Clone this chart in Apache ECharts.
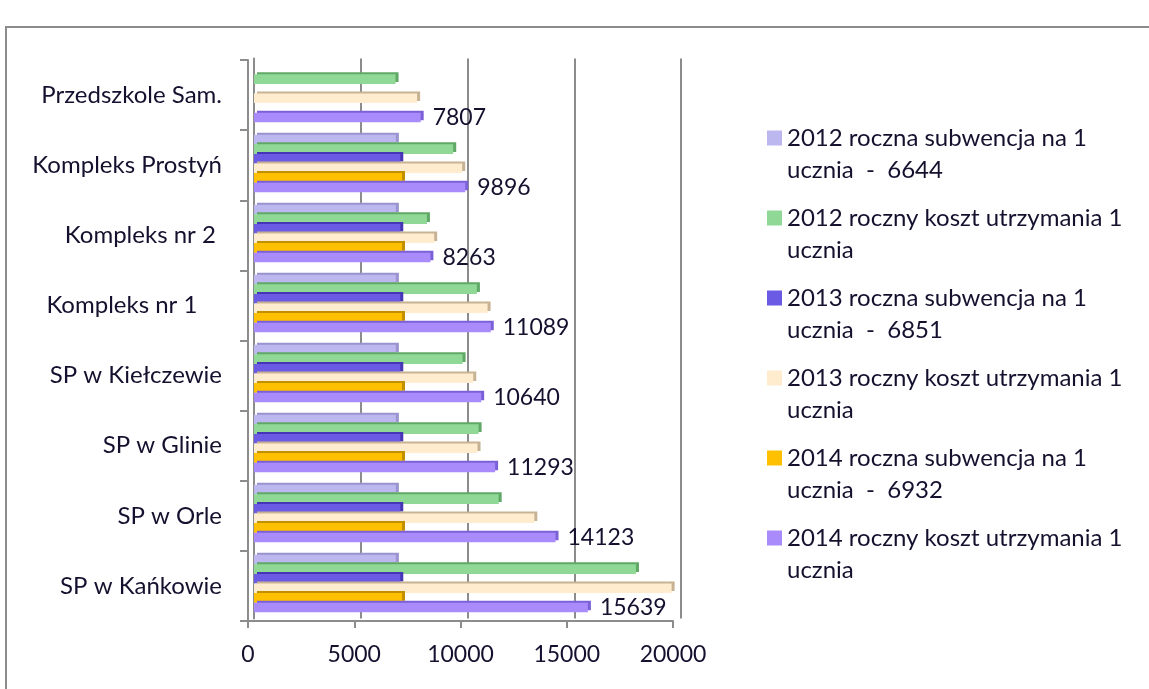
<!DOCTYPE html>
<html>
<head>
<meta charset="utf-8">
<script src="https://cdn.jsdelivr.net/npm/echarts@6/dist/echarts.min.js"></script>
<style>
  html, body { margin: 0; padding: 0; background: #fff; }
  #chart { width: 1149px; height: 689px; }
</style>
</head>
<body>
<div id="chart"></div>
<script>
// categories, top to bottom
var schools = ['Przedszkole Sam.', 'Kompleks Prostyń', 'Kompleks nr 2 ', 'Kompleks nr 1    ',
    'SP w Kiełczewie', 'SP w Glinie', 'SP w Orle', 'SP w Kańkowie'];

var subw2012 = [null, 6644, 6644, 6644, 6644, 6644, 6644, 6644];
var koszt2012 = [6630, 9330, 8100, 10440, 9770, 10520, 11460, 17890];
var subw2013 = [null, 6851, 6851, 6851, 6851, 6851, 6851, 6851];
var koszt2013 = [7640, 9750, 8440, 10940, 10270, 10470, 13130, 19560];
var subw2014 = [null, 6932, 6932, 6932, 6932, 6932, 6932, 6932];
var koszt2014 = [7807, 9896, 8263, 11089, 10640, 11293, 14123, 15639];

var xTicks = [0, 5000, 10000, 15000, 20000];

var seriesNames = [
    '2012 roczna subwencja na 1\nucznia  -  6644',
    '2012 roczny koszt utrzymania 1\nucznia',
    '2013 roczna subwencja na 1\nucznia  -  6851',
    '2013 roczny koszt utrzymania 1\nucznia',
    '2014 roczna subwencja na 1\nucznia  -  6932',
    '2014 roczny koszt utrzymania 1\nucznia'
];
var seriesData = [subw2012, koszt2012, subw2013, koszt2013, subw2014, koszt2014];
var colors = ['#bdb7ef', '#8fd896', '#6b5ae4', '#ffebcd', '#ffc000', '#a98bfb'];
var sideColors = ['#9993cf', '#5fa866', '#4636b5', '#c7b394', '#c28f00', '#7b60d8'];

var textColor = '#14102e';
var font = 'Lato';

var chart = echarts.init(document.getElementById('chart'));

var series = seriesNames.map(function (name, i) {
    return {
        name: name,
        type: 'bar',
        xAxisIndex: 0,
        yAxisIndex: 0,
        data: seriesData[i],
        barGap: 0,
        barCategoryGap: '18%',
        itemStyle: {
            color: colors[i],
            shadowColor: sideColors[i],
            shadowOffsetX: 3,
            shadowOffsetY: -2,
            shadowBlur: 0
        },
        label: {
            show: i === 5,
            position: 'right',
            distance: 12,
            fontSize: 23,
            fontFamily: font,
            color: textColor
        }
    };
});

chart.setOption({
    animation: false,
    textStyle: { fontFamily: font },
    color: colors,
    graphic: [{
        type: 'rect',
        shape: { x: 6, y: 27, width: 1200, height: 700 },
        style: { fill: 'none', stroke: '#8c8c8c', lineWidth: 2 }
    }],
    legend: {
        orient: 'vertical',
        left: 762,
        top: 85,
        itemWidth: 15,
        itemHeight: 15,
        itemGap: -16,
        icon: 'rect',
        selectedMode: false,
        // blank first line keeps the square level with the first text line
        formatter: function (name) { return '\n' + name; },
        textStyle: {
            fontSize: 24,
            lineHeight: 32,
            color: textColor
        },
        data: seriesNames
    },
    grid: [
        // back wall, where the bars sit
        { left: 254, width: 427, top: 58.5, height: 560 },
        // front axes
        { left: 248, width: 425, top: 60, height: 561 }
    ],
    xAxis: [{
        gridIndex: 0,
        type: 'value',
        min: 0,
        max: 20000,
        interval: 5000,
        axisLine: { show: false },
        axisTick: { show: false },
        axisLabel: { show: false },
        splitLine: { lineStyle: { color: '#8c8c8c', width: 2 } }
    }, {
        gridIndex: 1,
        type: 'value',
        min: 0,
        max: 20000,
        interval: 5000,
        axisLine: { show: true, lineStyle: { color: '#8c8c8c', width: 2 } },
        axisTick: { show: true, length: 7, lineStyle: { color: '#8c8c8c', width: 2 } },
        axisLabel: {
            margin: 22,
            fontSize: 23,
            color: textColor,
            formatter: function (v) { return xTicks.indexOf(v) >= 0 ? String(v) : ''; }
        },
        splitLine: { show: false }
    }],
    yAxis: [{
        gridIndex: 0,
        type: 'category',
        inverse: true,
        data: schools,
        axisLine: { show: true, lineStyle: { color: '#8c8c8c', width: 2 } },
        axisTick: { show: false },
        axisLabel: { show: false }
    }, {
        gridIndex: 1,
        type: 'category',
        inverse: true,
        data: schools,
        axisLine: { show: true, lineStyle: { color: '#8c8c8c', width: 2 } },
        axisTick: { show: true, length: 8, lineStyle: { color: '#8c8c8c', width: 2 } },
        axisLabel: {
            margin: 26,
            fontSize: 24,
            color: textColor
        }
    }],
    series: series
});
</script>
</body>
</html>
